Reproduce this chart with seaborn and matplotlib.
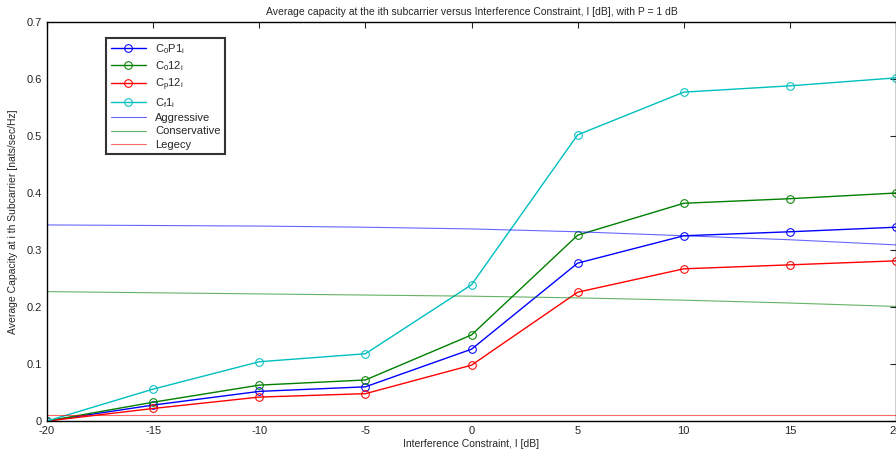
import numpy as np
import pandas as pd
import matplotlib
matplotlib.use("Agg")
import matplotlib.pyplot as plt
import seaborn as sns

sns.set_style("white")
plt.rcParams['font.family'] = ['Liberation Sans', 'DejaVu Sans']
plt.rcParams['axes.unicode_minus'] = False
plt.rcParams['mathtext.fontset'] = 'custom'
plt.rcParams['mathtext.rm'] = 'Liberation Sans'
plt.rcParams['mathtext.it'] = 'Liberation Sans'

# interference constraint, dB
i_db = [-20, -15, -10, -5, 0, 5, 10, 15, 20]

c0p1 = [0.0, 0.028, 0.052, 0.060, 0.126, 0.277, 0.325, 0.332, 0.340]
c012 = [0.0, 0.033, 0.063, 0.072, 0.151, 0.326, 0.382, 0.390, 0.400]
cp12 = [0.0, 0.022, 0.042, 0.048, 0.098, 0.226, 0.267, 0.274, 0.281]
cf1 = [0.0, 0.056, 0.104, 0.118, 0.239, 0.502, 0.577, 0.588, 0.602]

aggressive = [0.344, 0.343, 0.342, 0.340, 0.337, 0.332, 0.325, 0.318, 0.309]
conservative = [0.227, 0.225, 0.223, 0.221, 0.219, 0.216, 0.212, 0.207, 0.201]
legecy = [0.011] * 9

fig = plt.figure(figsize=(8.96, 4.5), dpi=100)
ax = fig.add_axes([0.0525, 0.0644, 0.9475, 0.8867])

marked = [
    (c0p1, 'blue', r'C$_0$P1$_i$'),
    (c012, 'green', r'C$_0$12$_i$'),
    (cp12, 'red', r'C$_p$12$_i$'),
    (cf1, 'c', r'C$_f$1$_i$'),
]
for vals, col, lab in marked:
    sns.lineplot(x=i_db, y=vals, color=col, marker='o', mfc='none', mec=col,
                 markersize=5.5, linewidth=1, label=lab, ax=ax)

plain = [
    (aggressive, 'blue', 'Aggressive'),
    (conservative, 'green', 'Conservative'),
    (legecy, 'red', 'Legecy'),
]
for vals, col, lab in plain:
    sns.lineplot(x=i_db, y=vals, color=col, linewidth=0.8, alpha=0.6,
                 label=lab, ax=ax)

ax.set_xlim(-20, 20)
ax.set_ylim(0, 0.7)
ax.set_xticks(range(-20, 21, 5))
ax.set_yticks(np.arange(0, 0.71, 0.1))
ax.set_yticklabels(['0', '0.1', '0.2', '0.3', '0.4', '0.5', '0.6', '0.7'])
ax.tick_params(direction='in', top=True, right=True, labelsize=8, length=4)
for s in ax.spines.values():
    s.set_color('black')
    s.set_linewidth(1)

ax.set_title('Average capacity at the ith subcarrier versus Interference Constraint, I [dB], with P = 1 dB',
             fontsize=7.5, pad=5)
ax.set_xlabel('Interference Constraint, I [dB]', fontsize=7.5, labelpad=2)
ax.set_ylabel('Average Capacity at i th Subcarrier [nats/sec/Hz]', fontsize=7.5, labelpad=6)

leg = ax.legend(loc='upper left', bbox_to_anchor=(0.063, 0.975), fontsize=8,
                frameon=True, fancybox=False, edgecolor='black',
                handlelength=3.2, labelspacing=0.3, borderpad=0.4)
leg.get_frame().set_linewidth(1.5)

fig.savefig('out.png', dpi=100)
